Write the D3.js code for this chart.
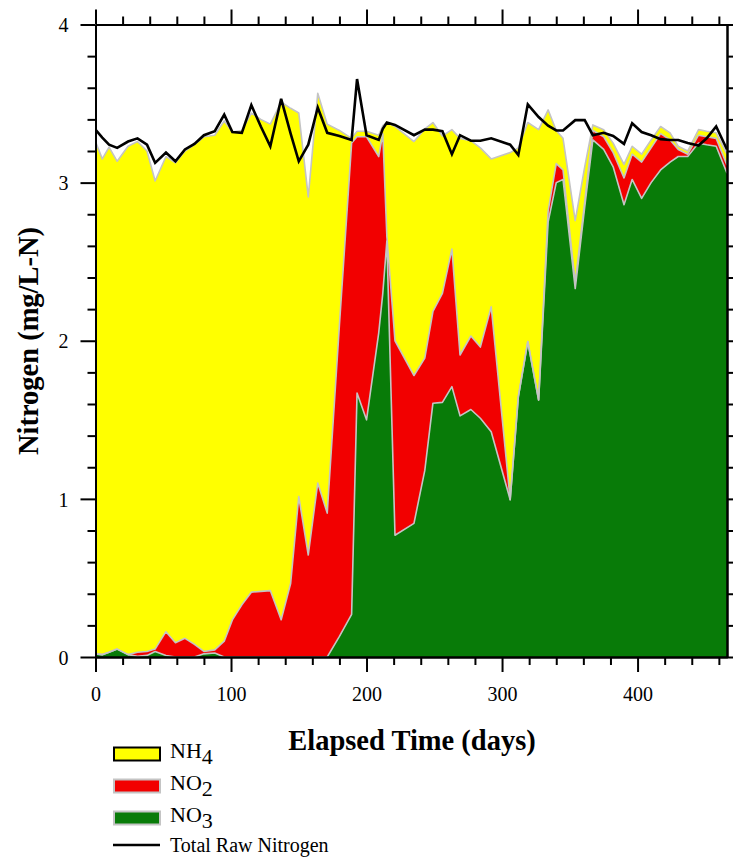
<!DOCTYPE html>
<html>
<head>
<meta charset="utf-8">
<script src="https://cdn.jsdelivr.net/npm/d3@7"></script>
<style>
  html, body { margin: 0; padding: 0; background: #fff; }
  svg { display: block; }
</style>
</head>
<body>
<svg id="chart" width="733" height="858"></svg>
<script>
// Sampling days (elapsed time)
const days = [0, 5, 10, 16, 24, 31, 38, 44, 52, 59, 66, 73, 80, 88, 95, 101, 108, 115, 122, 129,
  137, 144, 150, 157, 164, 171, 180, 189, 193, 200, 209, 212, 215, 221, 235, 243, 249, 256, 263, 269,
  277, 284, 292, 306, 312, 319, 327, 334, 340, 345, 354, 361, 367, 375, 382, 390, 396, 403, 410, 417,
  424, 430, 437, 445, 451, 458, 466];

// Total raw nitrogen (mg/L-N)
const totalRaw = [3.335, 3.285, 3.24, 3.22, 3.26, 3.28, 3.24, 3.125, 3.19, 3.135, 3.21, 3.245, 3.30, 3.325, 3.43, 3.32, 3.315, 3.49, 3.355, 3.23,
  3.53, 3.31, 3.135, 3.24, 3.475, 3.315, 3.295, 3.27, 3.655, 3.30, 3.27, 3.34, 3.38, 3.365, 3.30, 3.335, 3.335, 3.325, 3.18, 3.30,
  3.265, 3.265, 3.28, 3.24, 3.175, 3.495, 3.415, 3.36, 3.33, 3.33, 3.395, 3.395, 3.30, 3.315, 3.295, 3.245, 3.375, 3.32, 3.30, 3.275,
  3.27, 3.27, 3.25, 3.235, 3.28, 3.355, 3.21];

// NO3 (mg/L-N)
const no3 = [0.02, 0.015, 0.03, 0.05, 0.015, 0.005, 0.01, 0.035, 0.01, 0, 0, 0, 0.02, 0.025, 0, 0, 0, 0, 0, 0,
  0, 0, 0, 0, 0, 0, 0.13, 0.27, 1.67, 1.50, 2.05, 2.30, 2.63, 0.77, 0.845, 1.18, 1.605, 1.61, 1.71, 1.525,
  1.565, 1.51, 1.425, 0.995, 1.645, 1.995, 1.625, 2.75, 3.00, 3.02, 2.33, 2.845, 3.27, 3.21, 3.10, 2.86, 3.02, 2.90, 3.00, 3.08,
  3.13, 3.165, 3.165, 3.25, 3.24, 3.23, 3.06];

// NO2 (mg/L-N)
const no2 = [0, 0, 0, 0, 0, 0.025, 0.025, 0.015, 0.15, 0.09, 0.118, 0.08, 0.015, 0.02, 0.10, 0.235, 0.33, 0.41, 0.415, 0.42,
  0.235, 0.465, 1.015, 0.645, 1.10, 0.91, 1.97, 2.98, 1.62, 1.79, 1.115, 1.01, 0.03, 1.23, 0.935, 0.71, 0.58, 0.69, 0.87, 0.385,
  0.465, 0.45, 0.79, 0, 0, 0, 0, 0.07, 0.12, 0.06, 0.04, 0.035, 0.06, 0.08, 0.09, 0.17, 0.16, 0.23, 0.22, 0.23,
  0.14, 0.045, 0.015, 0.05, 0.05, 0.05, 0.05];

// NH4 (mg/L-N)
const nh4 = [3.24, 3.135, 3.195, 3.085, 3.215, 3.23, 3.165, 2.96, 3.005, 3.035, 3.082, 3.16, 3.255, 3.255, 3.29, 3.085, 3.00, 3.03, 2.985, 2.95,
  3.275, 3.005, 2.425, 2.265, 2.465, 2.46, 1.23, 0.03, 0.035, 0.035, 0.135, 0.05, 0.72, 1.355, 1.48, 1.45, 1.195, 0.995, 0.755, 1.37,
  1.235, 1.26, 0.935, 2.195, 1.575, 1.385, 1.71, 0.64, 0.21, 0.20, 0.39, 0.22, 0.035, 0.045, 0.06, 0.085, 0.05, 0.05, 0.05, 0.045,
  0.045, 0.02, 0.02, 0.035, 0.035, 0.035, 0.07];

const seriesKeys = ["no3", "no2", "nh4"];
const seriesColors = { no3: "#087b08", no2: "#f20000", nh4: "#ffff00" };
const xMajorTicks = [0, 100, 200, 300, 400];
const yMajorTicks = [0, 1, 2, 3, 4];

const rows = days.map((d, i) => ({ day: d, no3: no3[i], no2: no2[i], nh4: nh4[i], total: totalRaw[i] }));

const svg = d3.select("#chart");
const plotLeft = 95.5, plotRight = 727, plotTop = 24.5, plotBottom = 657;

const x = d3.scaleLinear().domain([0, 466]).range([plotLeft, plotRight]);
const y = d3.scaleLinear().domain([0, 4]).range([plotBottom, plotTop]);

svg.append("defs").append("clipPath").attr("id", "plotClip")
  .append("rect").attr("x", plotLeft).attr("y", plotTop)
  .attr("width", plotRight - plotLeft).attr("height", plotBottom - plotTop);

const stacked = d3.stack().keys(seriesKeys)(rows);

const plot = svg.append("g").attr("clip-path", "url(#plotClip)");

const area = d3.area()
  .x(d => x(d.data.day))
  .y0(d => y(d[0]))
  .y1(d => y(d[1]));

// Stacked species areas
plot.selectAll("path.layer")
  .data(stacked)
  .join("path")
  .attr("class", "layer")
  .attr("d", area)
  .attr("fill", s => seriesColors[s.key]);

// Light grey outline along the top of every layer
const edge = d3.line().x(d => x(d.data.day)).y(d => y(d[1]));
plot.selectAll("path.edge")
  .data(stacked)
  .join("path")
  .attr("class", "edge")
  .attr("d", edge)
  .attr("fill", "none")
  .attr("stroke", "#c4c4c4")
  .attr("stroke-width", 1.6)
  .attr("stroke-linejoin", "round");

// Total raw nitrogen
plot.append("path")
  .datum(rows)
  .attr("d", d3.line().x(d => x(d.day)).y(d => y(d.total)))
  .attr("fill", "none")
  .attr("stroke", "#000")
  .attr("stroke-width", 2.6)
  .attr("stroke-linejoin", "miter");

// Axes: frame with ticks on all four sides
const xMinor = d3.range(0, 461, 20).filter(v => v % 100 !== 0);
const yMinor = d3.range(0, 4.01, 0.2).map(v => +v.toFixed(1)).filter(v => Math.abs(v - Math.round(v)) > 1e-6);

function styleAxis(g) {
  g.selectAll("path.domain").attr("stroke", "#000").attr("stroke-width", 2);
  g.selectAll(".tick line").attr("stroke", "#000").attr("stroke-width", 2);
}

const tickFont = "'Liberation Serif', 'Times New Roman', serif";

// bottom
svg.append("g").attr("transform", `translate(0,${plotBottom})`)
  .call(d3.axisBottom(x).tickValues(xMinor).tickSize(8).tickSizeOuter(0).tickFormat(""))
  .call(styleAxis);
const gxb = svg.append("g").attr("transform", `translate(0,${plotBottom})`)
  .call(d3.axisBottom(x).tickValues(xMajorTicks).tickSize(15).tickSizeOuter(0).tickPadding(15).tickFormat(d3.format("d")))
  .call(styleAxis);
gxb.selectAll("text").attr("font-family", tickFont).attr("font-size", 20).attr("fill", "#000");

// top
svg.append("g").attr("transform", `translate(0,${plotTop})`)
  .call(d3.axisTop(x).tickValues(xMinor).tickSize(8).tickSizeOuter(0).tickFormat(""))
  .call(styleAxis);
svg.append("g").attr("transform", `translate(0,${plotTop})`)
  .call(d3.axisTop(x).tickValues(xMajorTicks).tickSize(15).tickSizeOuter(0).tickFormat(""))
  .call(styleAxis);

// left
svg.append("g").attr("transform", `translate(${plotLeft},0)`)
  .call(d3.axisLeft(y).tickValues(yMinor).tickSize(8).tickSizeOuter(0).tickFormat(""))
  .call(styleAxis);
const gyl = svg.append("g").attr("transform", `translate(${plotLeft},0)`)
  .call(d3.axisLeft(y).tickValues(yMajorTicks).tickSize(15).tickSizeOuter(0).tickPadding(12).tickFormat(d3.format("d")))
  .call(styleAxis);
gyl.selectAll("text").attr("font-family", tickFont).attr("font-size", 20).attr("fill", "#000").attr("dy", "0.36em");

// right
svg.append("g").attr("transform", `translate(${plotRight},0)`)
  .call(d3.axisRight(y).tickValues(yMinor).tickSize(8).tickSizeOuter(0).tickFormat(""))
  .call(styleAxis);
svg.append("g").attr("transform", `translate(${plotRight},0)`)
  .call(d3.axisRight(y).tickValues(yMajorTicks).tickSize(15).tickSizeOuter(0).tickFormat(""))
  .call(styleAxis);

// Axis titles
svg.append("text")
  .attr("x", 412).attr("y", 750)
  .attr("text-anchor", "middle")
  .attr("font-family", tickFont).attr("font-weight", "bold").attr("font-size", 28.5)
  .text("Elapsed Time (days)");

svg.append("text")
  .attr("transform", "translate(38,341) rotate(-90)")
  .attr("text-anchor", "middle")
  .attr("font-family", tickFont).attr("font-weight", "bold").attr("font-size", 28.5)
  .text("Nitrogen (mg/L-N)");

// Legend
const legendItems = [
  { base: "NH", sub: "4", key: "nh4", border: "#000", y: 747.5 },
  { base: "NO", sub: "2", key: "no2", border: "#c4c4c4", y: 779.5 },
  { base: "NO", sub: "3", key: "no3", border: "#c4c4c4", y: 811.5 }
];
const legend = svg.append("g");
legendItems.forEach(it => {
  legend.append("rect")
    .attr("x", 114).attr("y", it.y).attr("width", 46).attr("height", 13)
    .attr("fill", seriesColors[it.key]).attr("stroke", it.border).attr("stroke-width", 2);
  const t = legend.append("text")
    .attr("x", 170).attr("y", it.y + 10)
    .attr("font-family", tickFont).attr("font-size", 22).attr("fill", "#000");
  t.append("tspan").text(it.base);
  t.append("tspan").attr("dy", 6).text(it.sub);
});
legend.append("line")
  .attr("x1", 113).attr("x2", 160).attr("y1", 845).attr("y2", 845)
  .attr("stroke", "#000").attr("stroke-width", 2.6);
legend.append("text")
  .attr("x", 170).attr("y", 852)
  .attr("font-family", tickFont).attr("font-size", 20).attr("fill", "#000")
  .text("Total Raw Nitrogen");
</script>
</body>
</html>
